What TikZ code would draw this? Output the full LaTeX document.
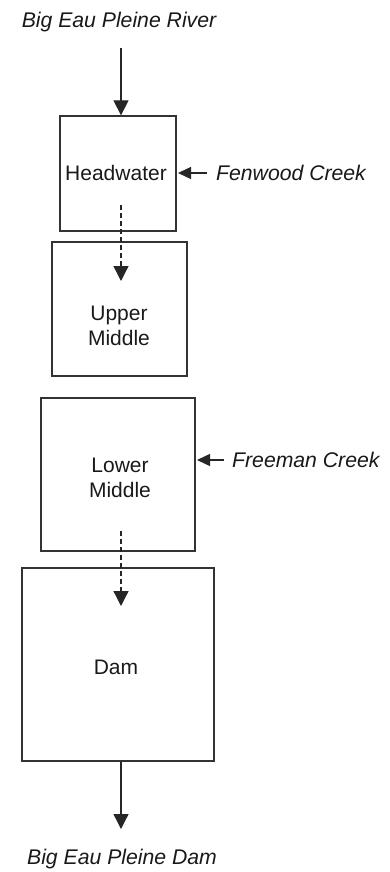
\documentclass[tikz,border=0pt]{standalone}
\usepackage{fontspec}
\setmainfont{Liberation Sans}
\usetikzlibrary{arrows.meta}
\begin{document}
\begin{tikzpicture}[x=1pt,y=-1pt,
  every node/.style={font=\fontsize{21}{25}\selectfont, text=black!90, inner sep=0pt},
  zonebox/.style={draw=black!80, line width=1.3pt, rectangle},
  lbl/.style={font=\itshape\fontsize{21.2}{25}\selectfont},
  flow/.style={line width=1.3pt, draw=black!85, -{Triangle[width=15pt,length=15pt]}},
  dflow/.style={flow, dash pattern=on 5pt off 3pt},
  side/.style={line width=1.3pt, draw=black!85, -{Triangle[width=12pt,length=13pt]}}]
\useasboundingbox (0,0) rectangle (389,872);
% boxes
\node[zonebox, minimum width=116pt, minimum height=115pt] (hw) at (118,173.5) {};
\node (hwt) at (116,173) {Headwater};
\node[zonebox, minimum width=135pt, minimum height=134pt] (um) at (119.5,309) {};
\node[align=center] (umt) at (119,326) {Upper\\Middle};
\node[zonebox, minimum width=154pt, minimum height=153pt] (lm) at (118,474.5) {};
\node[align=center] (lmt) at (120,478) {Lower\\Middle};
\node[zonebox, minimum width=192pt, minimum height=193pt] (dam) at (118,664.5) {};
\node (damt) at (116,667) {Dam};
% labels
\node[lbl] (river) at (119,22) {Big Eau Pleine River};
\node[lbl, anchor=west] (fen) at (216,173) {Fenwood Creek};
\node[lbl, anchor=west] (free) at (232,460) {Freeman Creek};
\node[lbl] (out) at (122,859) {Big Eau Pleine Dam};
% coordinates
\coordinate (rs) at (121,48);
\coordinate (d1s) at (121,205);
\coordinate (d1e) at (121,281);
\coordinate (d2s) at (121,531);
\coordinate (d2e) at (121,606);
\coordinate (fs) at (207,173);
\coordinate (fe) at (178,173);
\coordinate (gs) at (224,460);
\coordinate (ge) at (197,460);
\coordinate (oe) at (121,829);
% connectors
\draw[flow] (rs) -- (rs |- hw.north);
\draw[dflow] (d1s) -- (d1e);
\draw[dflow] (d2s) -- (d2e);
\draw[side] (fs) -- (fe);
\draw[side] (gs) -- (ge);
\draw[flow] (dam.south -| oe) -- (oe);
\end{tikzpicture}
\end{document}
